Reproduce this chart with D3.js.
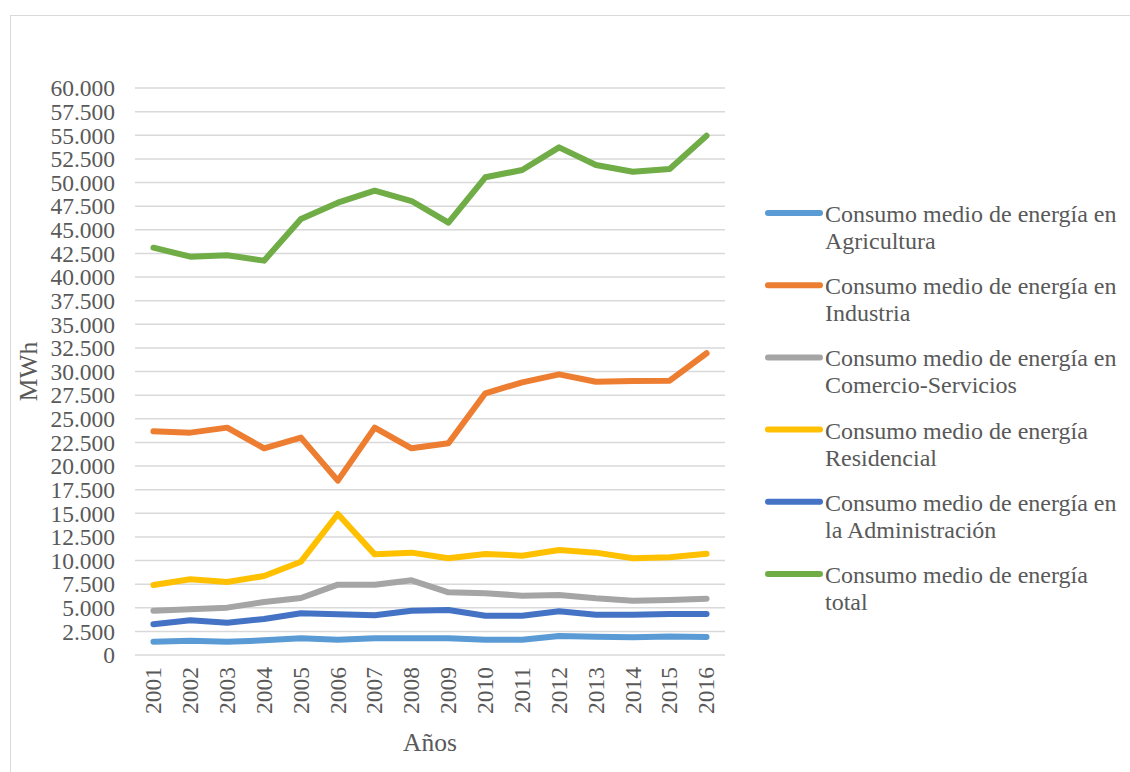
<!DOCTYPE html>
<html>
<head>
<meta charset="utf-8">
<script src="https://cdn.jsdelivr.net/npm/d3@7"></script>
<style>
  html, body { margin: 0; padding: 0; background: #ffffff; }
  svg { display: block; }
  text { font-family: "Liberation Serif", "Times New Roman", serif; fill: #595959; }
</style>
</head>
<body>
<svg id="chart" width="1130" height="772"></svg>
<script>
const years = ["2001","2002","2003","2004","2005","2006","2007","2008","2009","2010","2011","2012","2013","2014","2015","2016"];
const yTicks = [0,2500,5000,7500,10000,12500,15000,17500,20000,22500,25000,27500,30000,32500,35000,37500,40000,42500,45000,47500,50000,52500,55000,57500,60000];

const seriesNames = [
  ["Consumo medio de energía en", "Agricultura"],
  ["Consumo medio de energía en", "Industria"],
  ["Consumo medio de energía en", "Comercio-Servicios"],
  ["Consumo medio de energía", "Residencial"],
  ["Consumo medio de energía en", "la Administración"],
  ["Consumo medio de energía", "total"]
];
const seriesColors = ["#5B9BD5", "#ED7D31", "#A5A5A5", "#FFC000", "#4472C4", "#70AD47"];

const agricultura    = [1410,1520,1410,1550,1760,1620,1760,1760,1760,1620,1620,2010,1940,1870,1970,1900];
const industria      = [23670,23530,24060,21870,23000,18450,24060,21870,22400,27690,28850,29700,28920,28990,29030,31930];
const comercio       = [4690,4830,5010,5610,6030,7440,7440,7900,6630,6530,6280,6350,6000,5750,5820,5960];
const residencial    = [7410,8010,7725,8360,9875,14920,10650,10830,10230,10690,10510,11110,10830,10230,10340,10720];
const administracion = [3250,3670,3420,3810,4410,4300,4200,4690,4760,4160,4160,4620,4270,4270,4340,4340];
const total          = [43100,42150,42300,41730,46140,47860,49130,48040,45750,50550,51320,53720,51850,51140,51430,54950];

const seriesValues = [agricultura, industria, comercio, residencial, administracion, total];

const svg = d3.select("#chart");
const FS = 23.5;
const LFS = 24;
const TFS = 25.5;

// outer border
svg.append("rect")
  .attr("x", 10.5).attr("y", 15.5)
  .attr("width", 1200).attr("height", 900)
  .attr("fill", "none").attr("stroke", "#d9d9d9").attr("stroke-width", 1);

const plot = { left: 135, right: 725, top: 88, bottom: 655 };

const x = d3.scaleBand().domain(years).range([plot.left, plot.right]).paddingInner(0).paddingOuter(0);
const y = d3.scaleLinear().domain([0, 60000]).range([plot.bottom, plot.top]);

const fmt = v => v === 0 ? "0" : d3.format(",")(v).replace(/,/g, ".");

// gridlines
svg.append("g").selectAll("line").data(yTicks).join("line")
  .attr("x1", plot.left).attr("x2", plot.right)
  .attr("y1", d => y(d)).attr("y2", d => y(d))
  .attr("stroke", "#d9d9d9").attr("stroke-width", 1.5);

// y axis labels
const yAxis = d3.axisLeft(y).tickValues(yTicks).tickFormat(fmt).tickSize(0).tickPadding(0);
const gy = svg.append("g").attr("transform", `translate(${plot.left - 20},0)`).call(yAxis);
gy.select(".domain").remove();
gy.selectAll("text").attr("font-size", FS).attr("font-family", "Liberation Serif").attr("fill", "#595959").attr("dy", "0.33em");

// x axis labels
const xAxis = d3.axisBottom(x).tickSize(0).tickPadding(0);
const gx = svg.append("g").attr("transform", `translate(0,${plot.bottom})`).call(xAxis);
gx.select(".domain").remove();
gx.selectAll("text")
  .attr("font-size", FS).attr("font-family", "Liberation Serif").attr("fill", "#595959")
  .attr("transform", "rotate(-90)")
  .attr("text-anchor", "end")
  .attr("x", -12).attr("y", 0).attr("dy", "0.33em");

// axis titles
svg.append("text")
  .attr("x", (plot.left + plot.right) / 2).attr("y", 751)
  .attr("text-anchor", "middle").attr("font-size", TFS).text("Años");
svg.append("text")
  .attr("transform", `translate(37,${(plot.top + plot.bottom) / 2}) rotate(-90)`)
  .attr("text-anchor", "middle").attr("font-size", TFS).text("MWh");

// lines
const line = d3.line().x((d, i) => x(years[i]) + x.bandwidth() / 2).y(d => y(d));
svg.append("g").selectAll("path").data(seriesValues).join("path")
  .attr("d", d => line(d))
  .attr("fill", "none")
  .attr("stroke", (d, i) => seriesColors[i])
  .attr("stroke-width", 6)
  .attr("stroke-linejoin", "round")
  .attr("stroke-linecap", "round");

// legend
const leg = svg.append("g");
const legTop = 213, legStep = 72.2;
seriesNames.forEach((lines, i) => {
  const ly = legTop + i * legStep;
  leg.append("line")
    .attr("x1", 768).attr("x2", 820).attr("y1", ly).attr("y2", ly)
    .attr("stroke", seriesColors[i]).attr("stroke-width", 6).attr("stroke-linecap", "round");
  const t = leg.append("text").attr("x", 825).attr("y", ly + 9).attr("font-size", LFS);
  lines.forEach((s, j) => {
    t.append("tspan").attr("x", 825).attr("dy", j === 0 ? 0 : 27).text(s);
  });
});
</script>
</body>
</html>
